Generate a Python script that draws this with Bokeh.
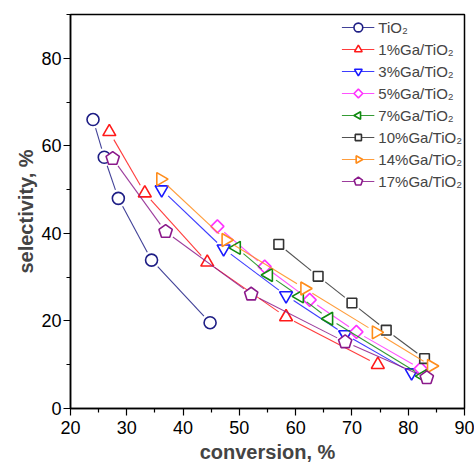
import numpy as np
from bokeh.plotting import figure
from bokeh.models import FixedTicker, Range1d, Legend, LegendItem
from bokeh.embed import file_html
from bokeh.resources import INLINE

labels = ["TiO₂", "1%Ga/TiO₂", "3%Ga/TiO₂", "5%Ga/TiO₂", "7%Ga/TiO₂",
          "10%Ga/TiO₂", "14%Ga/TiO₂", "17%Ga/TiO₂"]
conv_tio2 = [24.0, 26.0, 28.5, 34.4, 44.8]
sel_tio2 = [66.0, 57.4, 48.0, 33.9, 19.6]
conv_1 = [26.9, 33.2, 44.3, 58.3, 74.6]
sel_1 = [63.2, 49.2, 33.4, 20.9, 10.0]
conv_3 = [36.2, 47.2, 58.3, 68.8, 80.6]
sel_3 = [50.0, 36.5, 25.8, 16.9, 8.2]
conv_5 = [46.1, 54.5, 62.5, 70.8, 82.2]
sel_5 = [41.6, 32.4, 24.8, 17.5, 9.1]
conv_7 = [49.5, 55.2, 60.7, 65.9, 82.6]
sel_7 = [36.7, 30.5, 25.6, 20.5, 7.4]
conv_10 = [57.0, 64.0, 70.0, 76.1, 82.9]
sel_10 = [37.5, 30.2, 24.1, 17.9, 11.4]
conv_14 = [36.0, 47.6, 61.6, 74.3, 84.1]
sel_14 = [52.4, 38.5, 27.4, 17.4, 9.7]
conv_17 = [27.5, 36.9, 52.1, 68.8, 83.3]
sel_17 = [57.1, 40.4, 26.1, 15.2, 7.0]

x_ticks = [20, 30, 40, 50, 60, 70, 80, 90]
y_ticks = [0, 20, 40, 60, 80]

# (x, y, colour, marker kind, angle, radius in px)
series = [
    (conv_tio2, sel_tio2, "#1e1e85", "circle", 0.0, 6),
    (conv_1, sel_1, "#ff1a1a", "ngon3", 0.0, 7.5),
    (conv_3, sel_3, "#1a1aff", "ngon3", np.pi, 7.5),
    (conv_5, sel_5, "#ff33ff", "ngon4", 0.0, 6.5),
    (conv_7, sel_7, "#108a10", "ngon3", np.pi / 2, 7.5),
    (conv_10, sel_10, "#333333", "ngon4", np.pi / 4, 6.8),
    (conv_14, sel_14, "#ff8c1a", "ngon3", -np.pi / 2, 7.5),
    (conv_17, sel_17, "#8b1a8b", "ngon5", 0.0, 7),
]

W, H = 474, 466
ml, mr, mt, mb = 70, 10, 14, 58
fw, fh = W - ml - mr, H - mt - mb
xr = (20, 90)
yr = (0, 90)
sx = fw / (xr[1] - xr[0])
sy = fh / (yr[1] - yr[0])

p = figure(width=W, height=H, output_backend="svg", toolbar_location=None,
           x_range=Range1d(*xr), y_range=Range1d(*yr),
           min_border_left=ml, min_border_right=mr, min_border_top=mt, min_border_bottom=mb)
p.grid.visible = False
p.outline_line_color = "black"
p.outline_line_width = 1.5
p.background_fill_color = "white"
p.border_fill_color = "white"

p.xaxis.ticker = FixedTicker(ticks=x_ticks, minor_ticks=[25, 35, 45, 55, 65, 75, 85])
p.yaxis.ticker = FixedTicker(ticks=y_ticks, minor_ticks=[10, 30, 50, 70, 90])
p.xaxis.axis_label = "conversion, %"
p.yaxis.axis_label = "selectivity, %"
for ax in (p.xaxis, p.yaxis):
    ax.axis_label_text_font = "Liberation Sans"
    ax.axis_label_text_font_style = "bold"
    ax.axis_label_text_font_size = "20px"
    ax.axis_label_text_line_height = 1.0
    ax.major_label_text_font = "Liberation Sans"
    ax.major_label_text_font_size = "18px"
    ax.major_label_text_line_height = 1.0
    ax.major_label_text_color = "black"
    ax.axis_line_width = 1.5
    ax.axis_line_color = "black"
    ax.major_tick_line_width = 1.2
    ax.minor_tick_line_width = 1.2
    ax.major_tick_in = 0
    ax.major_tick_out = 7
    ax.minor_tick_in = 0
    ax.minor_tick_out = 4
p.xaxis.major_label_standoff = 5
p.yaxis.major_label_standoff = 2
p.xaxis.axis_label_standoff = 4
p.yaxis.axis_label_standoff = 1

gap = 9.0
items = []
for (xs, ys, col, mk, ang, sz), lab in zip(series, labels):
    x0s, y0s, x1s, y1s = [], [], [], []
    for i in range(len(xs) - 1):
        ax_, ay_, bx_, by_ = xs[i], ys[i], xs[i + 1], ys[i + 1]
        L = np.hypot((bx_ - ax_) * sx, (by_ - ay_) * sy)
        if L > 2 * gap:
            t = gap / L
            x0s.append(ax_ + t * (bx_ - ax_)); y0s.append(ay_ + t * (by_ - ay_))
            x1s.append(bx_ - t * (bx_ - ax_)); y1s.append(by_ - t * (by_ - ay_))
    seg = p.segment(x0=x0s, y0=y0s, x1=x1s, y1=y1s, line_color=col, line_width=1.1, line_alpha=0.85)
    if mk.startswith("ngon"):
        r = p.ngon(x=xs, y=ys, radius=sz, radius_units="screen", n=int(mk[4:]), angle=ang,
                   line_color=col, line_width=1.6, fill_color="white")
    else:
        r = p.circle(x=xs, y=ys, radius=sz, radius_units="screen", line_color=col,
                     line_width=1.6, fill_color="white")
    items.append(LegendItem(label=lab, renderers=[seg, r]))

legend = Legend(items=items, location="top_right")
legend.label_text_font = "Liberation Sans"
legend.label_text_font_size = "15px"
legend.background_fill_alpha = 0
legend.border_line_alpha = 0
legend.margin = 0
legend.padding = 2
legend.spacing = 0
legend.label_height = 22
legend.glyph_height = 22
legend.glyph_width = 33
legend.label_standoff = 4
p.add_layout(legend)

open("out.html", "w").write(file_html(p, INLINE))
